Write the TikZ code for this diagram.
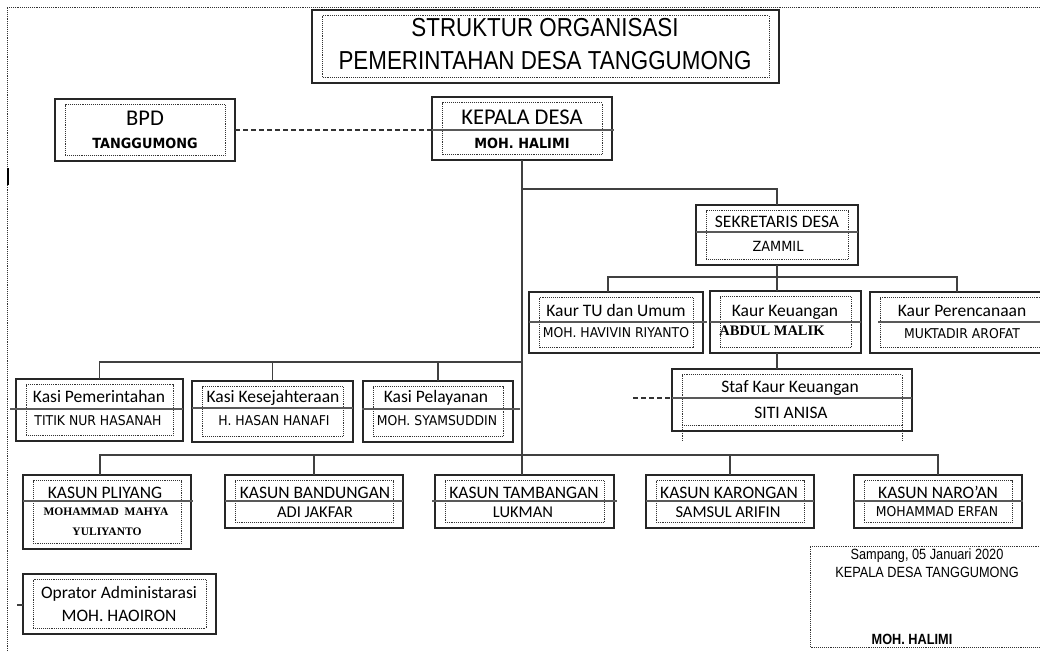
\documentclass[tikz,border=0pt]{standalone}
\usepackage{fontspec}
\setmainfont{Carlito}
\newfontfamily\arialn[FakeStretch=0.86]{Liberation Sans}
\newfontfamily\tahoma[FakeStretch=0.92]{DejaVu Sans}
\newfontfamily\timesr{Liberation Serif}

% one unit of the chart: solid frame with a dotted frame inside
\newcommand{\orgbox}[5]{%
  \node[unitbox, minimum width={(#4-#2)*1pt}, minimum height={(#5-#3)*1pt}] (#1) at ({(#2+#4)/2},{(#3+#5)/2}) {};
  \draw[innerdot] ([shift={(10,5.5)}]#1.north west) rectangle ([shift={(-10,-5.5)}]#1.south east);
}

\begin{document}
\begin{tikzpicture}[x=1pt,y=-1pt,
    unitbox/.style={draw=black!85, line width=1.6pt, inner sep=0pt, outer sep=0pt},
    innerdot/.style={draw=black!80, line width=0.8pt, dash pattern=on 0.8pt off 1.1pt},
    divider/.style={draw=black!65, line width=1.4pt},
    link/.style={draw=black!75, line width=1.4pt},
    dashlink/.style={draw=black!80, line width=1.3pt, dash pattern=on 5pt off 3pt},
    every node/.append style={text depth=0pt, inner sep=0pt},
    titletext/.style={font=\arialn\fontsize{26}{30}\selectfont, text height=18.6pt},
    signtext/.style={font=\arialn\fontsize{14.8}{16}\selectfont, text height=10.6pt},
    bighead/.style={font=\fontsize{22.5}{25}\selectfont, text height=14.5pt},
    head/.style={font=\fontsize{17.5}{19}\selectfont, text height=11.3pt},
    pname/.style={font=\tahoma\fontsize{13.5}{15}\selectfont, text height=9.8pt},
    pnamebold/.style={font=\tahoma\bfseries\fontsize{14}{16}\selectfont, text height=10.2pt},
    cname/.style={font=\fontsize{16.5}{18}\selectfont, text height=10.6pt},
    sname/.style={font=\timesr\bfseries\fontsize{#1}{#1}\selectfont, text height=0.662*#1 pt}]
\useasboundingbox (0,0) rectangle (1040,651);
\clip (0,0) rectangle (1040,651);

% page margin marks
\draw[innerdot] (7,651) -- (7,7) -- (1040,7);
\draw[line width=1.5pt] (8,168) -- (8,185);

% boxes
\orgbox{title}{312}{10}{779}{83}
\orgbox{bpd}{55}{99}{235}{161}
\orgbox{kades}{432}{97}{612}{160}
\orgbox{sekdes}{696}{205}{858}{265}
\orgbox{kaurtu}{529}{292}{703}{353}
\orgbox{kaurkeu}{710}{291}{861}{353}
\orgbox{perenc}{870}{292}{1054}{353}
\orgbox{staf}{672}{369}{912}{431}
\orgbox{kasipem}{16}{379}{183}{441}
\orgbox{kasikes}{192}{381}{353}{442}
\orgbox{kasipel}{363}{381}{513}{442}
\orgbox{pliyang}{23}{475}{191}{549}
\orgbox{bandungan}{225}{475}{403}{528}
\orgbox{tambangan}{435}{475}{614}{528}
\orgbox{karongan}{646}{475}{814}{528}
\orgbox{naroan}{854}{475}{1022}{528}
\orgbox{opr}{23}{574}{216}{634}
\draw[innerdot] (682,425) -- (682,442);
\draw[innerdot] (902,425) -- (902,442);

% dividers
\draw[divider, shorten >=-2pt] (kades.west |- 0,130) -- (kades.east |- 0,130);
\draw[divider] (sekdes.west |- 0,232) -- (sekdes.east |- 0,232);
\draw[divider, shorten >=-4pt] (kaurtu.west |- 0,322) -- (kaurtu.east |- 0,322);
\draw[divider] (kaurkeu.west |- 0,322) -- (kaurkeu.east |- 0,322);
\draw[divider, shorten <=8pt] (perenc.west |- 0,322) -- (perenc.east |- 0,322);
\draw[divider] (staf.west |- 0,398) -- (staf.east |- 0,398);
\draw[divider, shorten <=-6pt] (kasipem.west |- 0,409) -- (kasipem.east |- 0,409);
\draw[divider] (kasikes.west |- 0,408) -- (kasikes.east |- 0,408);
\draw[divider, shorten <=-1pt, shorten >=-7pt] (kasipel.west |- 0,409) -- (kasipel.east |- 0,409);
\draw[divider, shorten >=-2pt] (pliyang.west |- 0,501) -- (pliyang.east |- 0,501);
\draw[divider] (bandungan.west |- 0,501) -- (bandungan.east |- 0,501);
\draw[divider, shorten <=-3pt, shorten >=-3pt] (tambangan.west |- 0,501) -- (tambangan.east |- 0,501);
\draw[divider] (karongan.west |- 0,501) -- (karongan.east |- 0,501);
\draw[divider, shorten >=-1pt] (naroan.west |- 0,501) -- (naroan.east |- 0,501);

% connectors
\coordinate (sekbus) at (522,189);
\coordinate (kasibus) at (522,362);
\coordinate (kasunbus) at (522,455);
\coordinate (stafdash) at (633,398);
\coordinate (oprtick) at (17,605);
\draw[dashlink] (bpd.east) -- (bpd.east -| kades.west);
\draw[link] (kades.south) -- (kades.south |- tambangan.north);
\draw[link] (sekbus) -| (sekdes.north);
\draw[link] (sekdes.south) -- (sekdes.south |- kaurkeu.north);
\draw[link] ([xshift=-8pt]kaurtu.north) -- ++(0,-15) -| ([xshift=-5pt]perenc.north);
\draw[link] (sekdes.south |- kaurkeu.south) -- (sekdes.south |- staf.north);
\draw[dashlink] (stafdash) -- (stafdash -| staf.west);
\draw[link] (kasibus) -| (kasipem.north);
\draw[link] (kasikes.north |- kasibus) -- (kasikes.north);
\draw[link] (kasipel.north |- kasibus) -- (kasipel.north);
\draw[link] (kasunbus) -| ([xshift=-7pt]pliyang.north);
\draw[link] (kasunbus) -| (naroan.north);
\draw[link] (bandungan.north |- kasunbus) -- (bandungan.north);
\draw[link] (karongan.north |- kasunbus) -- (karongan.north);
\draw[link] (oprtick) -- (oprtick -| opr.west);

% texts
\node[titletext] (titleA) at (545,27) {STRUKTUR ORGANISASI};
\node[titletext] (titleB) at (545,60) {PEMERINTAHAN DESA TANGGUMONG};
\node[bighead] (bpdA) at (145,118) {BPD};
\node[pnamebold] (bpdB) at (145,143) {TANGGUMONG};
\node[bighead] (kadesA) at (522,117) {KEPALA DESA};
\node[pnamebold] (kadesB) at (522,143) {MOH. HALIMI};
\node[head] (sekdesA) at (777,222) {SEKRETARIS DESA};
\node[pname, font=\tahoma\fontsize{14}{16}\selectfont] (sekdesB) at (778,247) {ZAMMIL};
\node[head] (kaurtuA) at (616,311) {Kaur TU dan Umum};
\node[pname] (kaurtuB) at (616,333) {MOH. HAVIVIN RIYANTO};
\node[head] (kaurkeuA) at (785,311) {Kaur Keuangan};
\node[sname=14.5] (kaurkeuB) at (772,331) {ABDUL MALIK};
\node[head] (perencA) at (962,311) {Kaur Perencanaan};
\node[pname] (perencB) at (962,334) {MUKTADIR AROFAT};
\node[head] (stafA) at (790,387) {Staf Kaur Keuangan};
\node[head] (stafB) at (791,413) {SITI ANISA};
\node[head] (kasipemA) at (99,397) {Kasi Pemerintahan};
\node[pname] (kasipemB) at (98,421) {TITIK NUR HASANAH};
\node[head] (kasikesA) at (273,397) {Kasi Kesejahteraan};
\node[pname] (kasikesB) at (274,421) {H. HASAN HANAFI};
\node[head] (kasipelA) at (436,397) {Kasi Pelayanan};
\node[pname] (kasipelB) at (437,421) {MOH. SYAMSUDDIN};
\node[head] (pliyangA) at (105,493) {KASUN PLIYANG};
\node[sname=11.5] (pliyangB) at (106,512) {MOHAMMAD~~MAHYA};
\node[sname=11.5] (pliyangC) at (107,532) {YULIYANTO};
\node[head] (bandunganA) at (315,493) {KASUN BANDUNGAN};
\node[cname] (bandunganB) at (315,512) {ADI JAKFAR};
\node[head] (tambanganA) at (524,493) {KASUN TAMBANGAN};
\node[cname] (tambanganB) at (523,512) {LUKMAN};
\node[head] (karonganA) at (729,493) {KASUN KARONGAN};
\node[cname] (karonganB) at (728,512) {SAMSUL ARIFIN};
\node[head] (naroanA) at (938,493) {KASUN NARO’AN};
\node[pname] (naroanB) at (937,512) {MOHAMMAD ERFAN};
\node[head] (oprA) at (119,593) {Oprator Administarasi};
\node[head] (oprB) at (119,616) {MOH. HAOIRON};

% signature
\draw[innerdot] (1045,647) -- (810,647) -- (810,546) -- (1045,546);
\node[signtext] (signA) at (927,554) {Sampang, 05 Januari 2020};
\node[signtext] (signB) at (927,572) {KEPALA DESA TANGGUMONG};
\node[signtext, font=\arialn\bfseries\fontsize{14.8}{16}\selectfont] (signC) at (912,639) {MOH. HALIMI};
\end{tikzpicture}
\end{document}
